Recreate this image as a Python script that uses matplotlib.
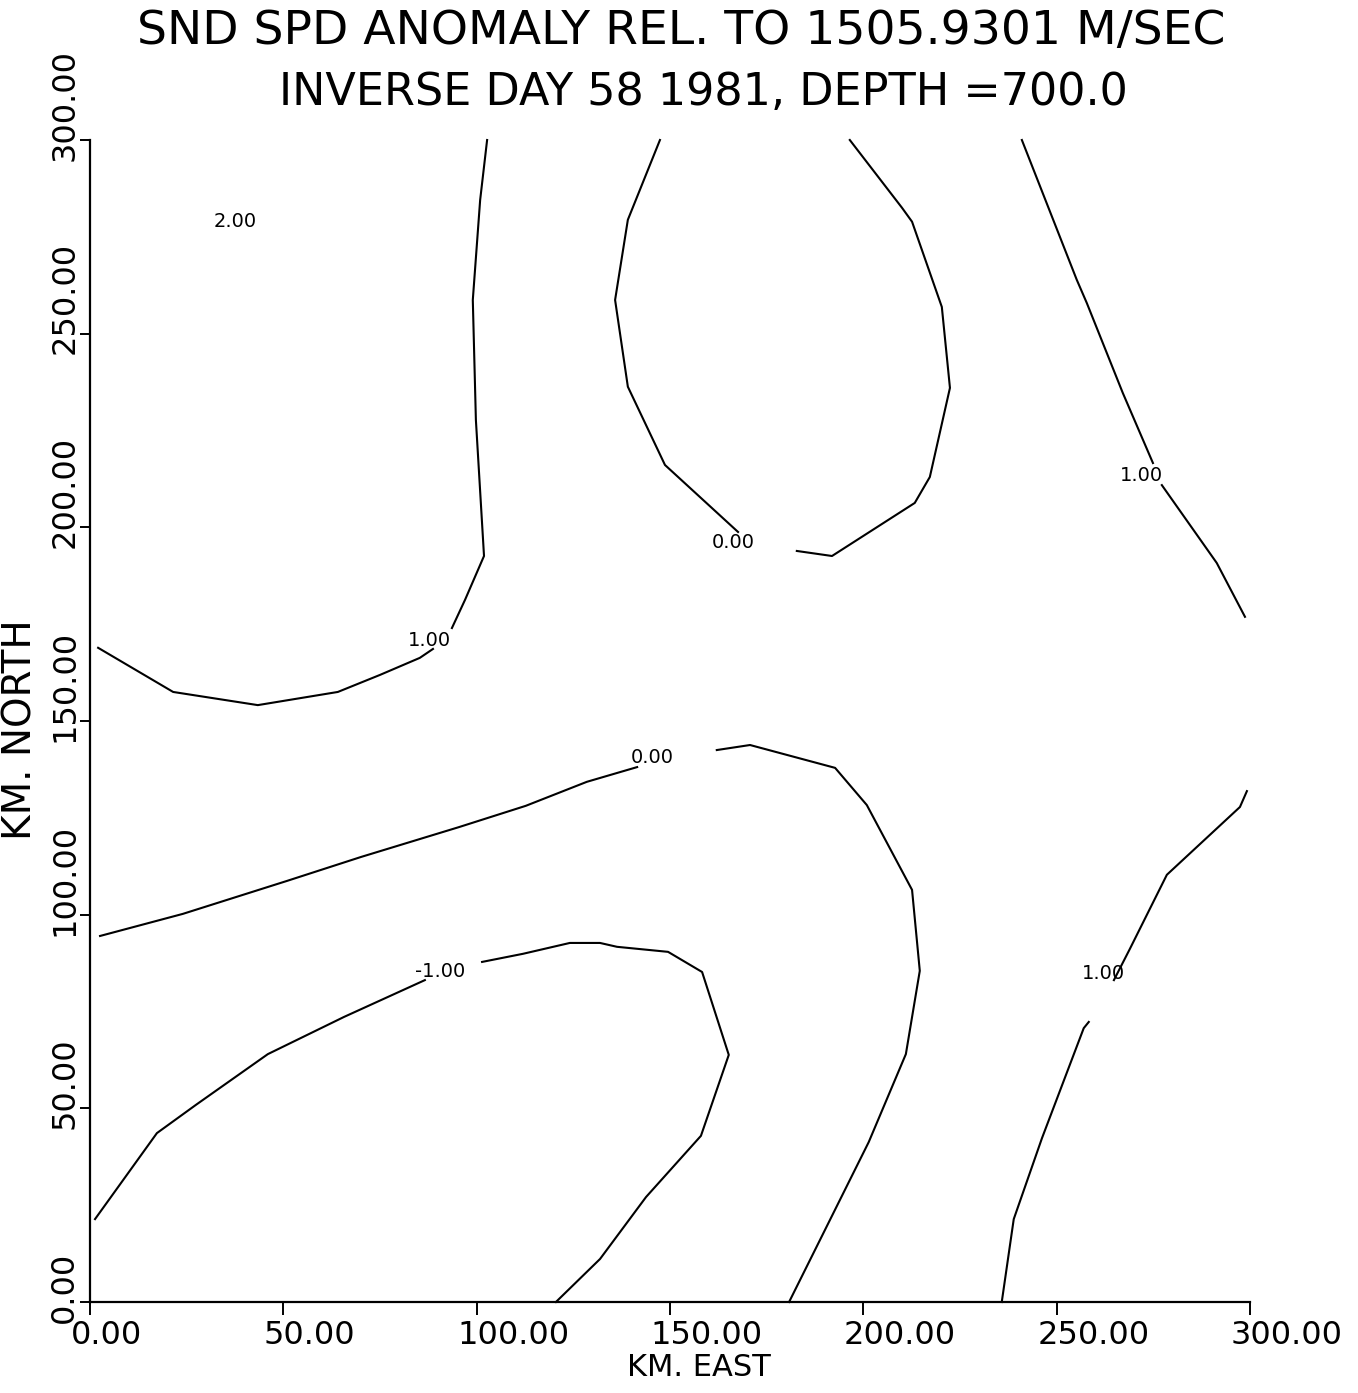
import numpy as np
import matplotlib
matplotlib.use("Agg")
import matplotlib.pyplot as plt

nan = np.nan

# ---- data (km east / km north), NaN = gap left for a contour label ----
c1_topleft_x = [2.1, 21.5, 43.4, 64.1, 75.0, 85.3, 88.7, nan, 93.6, 97.0, 101.9, 99.8, 99.0, 100.9, 102.7]
c1_topleft_y = [168.9, 157.5, 154.1, 157.5, 161.9, 166.3, 168.6, nan, 174.0, 181.3, 192.6, 227.7, 258.7, 284.5, 300.0]

c0_loop_x = [147.4, 139.1, 135.8, 139.1, 148.7, 167.6, nan, 182.8, 191.9, 213.3, 217.2, 222.4, 220.3, 212.6, 210.0, 196.5]
c0_loop_y = [300.0, 279.4, 258.7, 236.3, 216.1, 198.8, nan, 193.9, 192.6, 206.3, 213.0, 236.0, 256.9, 278.9, 282.5, 300.0]

c1_righttop_x = [241.0, 255.2, 257.8, 267.1, 274.9, nan, 277.2, 291.4, 298.7]
c1_righttop_y = [300.0, 263.9, 257.9, 234.7, 216.6, nan, 210.9, 190.8, 176.9]

c0_lower_x = [2.6, 24.0, 50.9, 70.1, 95.4, 112.7, 128.5, 141.5, nan, 162.1, 170.7, 192.7, 200.9, 212.6, 214.6, 211.0, 201.4, 180.8]
c0_lower_y = [94.5, 100.2, 108.7, 114.9, 122.6, 128.1, 134.3, 138.1, nan, 142.5, 143.8, 137.9, 128.3, 106.4, 85.5, 64.0, 41.3, 0.0]

cm1_x = [1.3, 17.3, 27.4, 46.0, 65.7, 86.6, nan, 101.4, 112.0, 124.1, 131.9, 136.3, 149.5, 158.3, 165.2, 158.0, 143.8, 131.9, 120.5]
cm1_y = [21.4, 43.6, 50.9, 64.0, 73.6, 83.1, nan, 87.8, 89.9, 92.7, 92.7, 91.7, 90.4, 85.2, 63.8, 42.9, 27.1, 11.1, 0.0]

c1_lowright_x = [235.8, 238.9, 246.2, 257.0, 258.3, nan, 264.8, 268.9, 278.5, 297.4, 299.2]
c1_lowright_y = [0.0, 21.4, 42.3, 70.7, 72.3, nan, 83.1, 91.1, 110.3, 127.8, 131.9]

label_text = ['2.00', '1.00', '0.00', '1.00', '0.00', '-1.00', '1.00']
label_x = [37.5, 87.9, 166.3, 272.0, 145.3, 90.5, 262.2]
label_y = [278.9, 170.9, 196.0, 213.5, 140.7, 85.2, 84.9]

x_ticks = [0, 50, 100, 150, 200, 250, 300]
y_ticks = [0, 50, 100, 150, 200, 250, 300]
x_tick_labels = ['0.00', '50.00', '100.00', '150.00', '200.00', '250.00', '300.00']
y_tick_labels = ['0.00', '50.00', '100.00', '150.00', '200.00', '250.00', '300.00']

title1 = "SND SPD ANOMALY REL. TO 1505.9301 M/SEC"
title2 = "INVERSE DAY 58 1981, DEPTH =700.0"
xlabel = "KM. EAST"
ylabel = "KM. NORTH"

# ---- figure ----
plt.rcParams['font.family'] = ['DejaVu Sans']
W, H = 1358, 1393
fig = plt.figure(figsize=(W / 100, H / 100), dpi=100)
ax = fig.add_axes([90 / W, (H - 1302) / H, 1160 / W, 1162 / H])
ax.set_xlim(0, 300)
ax.set_ylim(0, 300)

lw = 1.5
for xs, ys in [(c1_topleft_x, c1_topleft_y), (c0_loop_x, c0_loop_y),
               (c1_righttop_x, c1_righttop_y), (c0_lower_x, c0_lower_y),
               (cm1_x, cm1_y), (c1_lowright_x, c1_lowright_y)]:
    ax.plot(xs, ys, color='black', lw=lw, clip_on=False)

for t, x, y in zip(label_text, label_x, label_y):
    ax.text(x, y, t, ha='center', va='center', fontsize=14, color='black')

for s in ['top', 'right']:
    ax.spines[s].set_visible(False)
for s in ['left', 'bottom']:
    ax.spines[s].set_linewidth(1.6)
    ax.spines[s].set_color('black')

ax.set_xticks(x_ticks)
ax.set_yticks(y_ticks)
ax.set_xticklabels([])
ax.set_yticklabels([])
ax.tick_params(axis='x', direction='out', length=9, width=1.4, color='black')
ax.tick_params(axis='y', direction='out', length=7, width=1.4, color='black')

tick_fs = 23
xtrans = ax.get_xaxis_transform()
for v, t in zip(x_ticks, x_tick_labels):
    ax.annotate(t, xy=(v, 0), xycoords=xtrans, xytext=(-14, -13),
                textcoords='offset points', ha='left', va='top',
                fontsize=tick_fs, annotation_clip=False)
ytrans = ax.get_yaxis_transform()
for v, t in zip(y_ticks, y_tick_labels):
    ax.annotate(t, xy=(0, v), xycoords=ytrans, xytext=(-7, -15),
                textcoords='offset points', ha='right', va='bottom',
                rotation=90, fontsize=tick_fs, annotation_clip=False)

fig.text(681 / W, 1 - 32 / H, title1, ha='center', va='center', fontsize=34)
fig.text(703 / W, 1 - 92 / H, title2, ha='center', va='center', fontsize=32)
fig.text(699 / W, 1 - 1368 / H, xlabel, ha='center', va='center', fontsize=22)
fig.text(21 / W, 1 - 730 / H, ylabel, ha='center', va='center', fontsize=28, rotation=90)

fig.savefig("out.png", dpi=100, facecolor='white')
